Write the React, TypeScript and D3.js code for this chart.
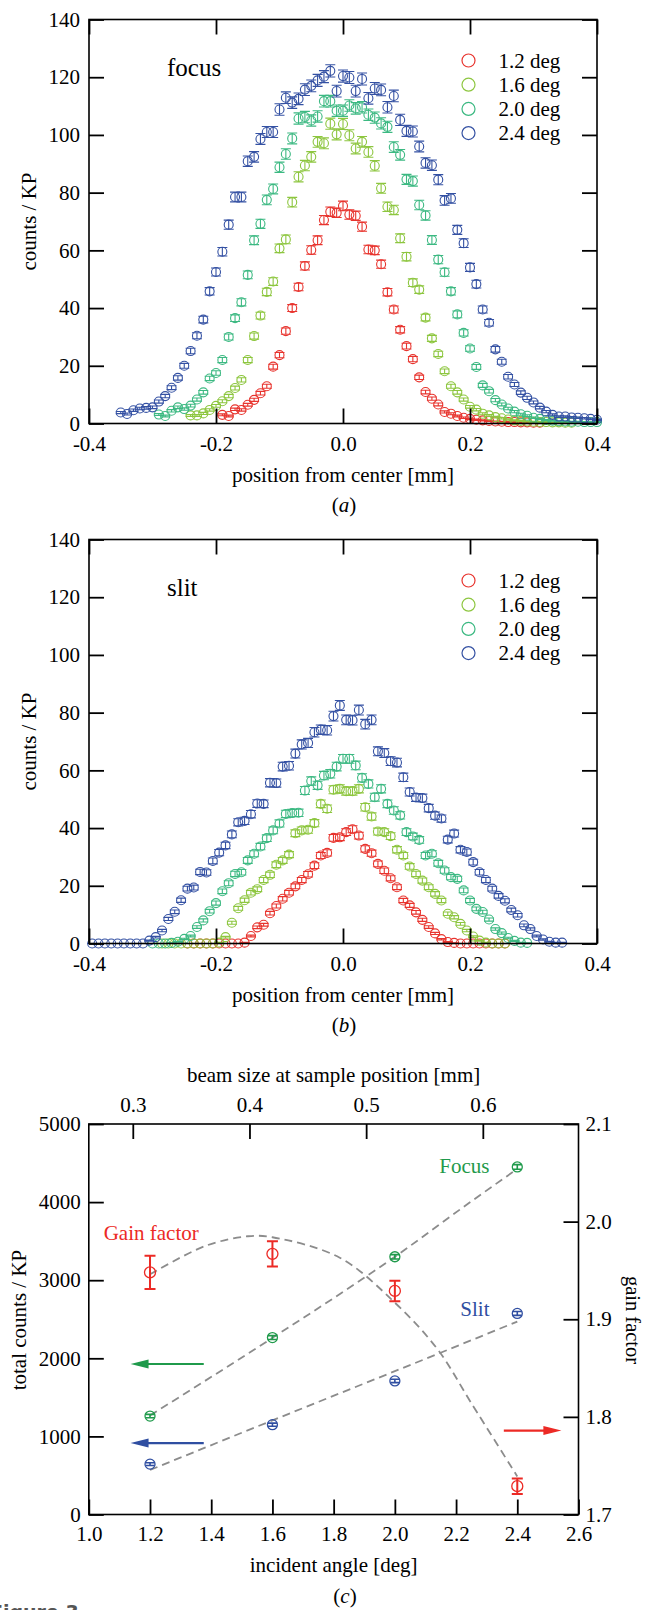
import { useEffect, useRef } from 'react'
import * as d3 from 'd3'

const SERIF = '"Liberation Serif", "Times New Roman", Times, serif'

// four incident angles (panels a, b)
const angleLabels = ['1.2 deg', '1.6 deg', '2.0 deg', '2.4 deg']
const angleColors = ['#e8342e', '#8dc63f', '#3cb982', '#3451a3']

// beam profiles: one point every 0.01 mm starting at the given position
const profileStep = 0.01
const focusStarts = [-0.19, -0.24, -0.29, -0.35]
const focus12 = [3.0, 2.6, 4.9, 4.7, 6.5, 8.2, 10.5, 12.9, 19.7, 23.7, 32.0, 40.0, 47.3, 54.6, 60.1, 63.5, 70.5, 73.4, 73.0, 75.4,
  72.4, 72.0, 68.2, 60.3, 60.0, 55.2, 45.5, 39.5, 32.5, 26.8, 22.3, 16.0, 10.9, 8.6, 6.6, 4.0, 3.4, 2.6, 2.0, 1.6,
  1.3, 1.1, 0.9, 0.7, 0.6, 0.5, 0.5, 0.4, 0.4, 0.3, 0.3]
const focus16 = [2.8, 2.8, 3.5, 4.7, 6.1, 7.7, 9.5, 12.3, 15.1, 22.0, 30.3, 37.4, 45.6, 49.2, 60.7, 63.8, 76.7, 85.5, 89.4, 92.4,
  97.6, 97.1, 103.9, 100.2, 103.8, 99.9, 95.3, 97.6, 94.1, 89.3, 81.5, 75.1, 74.0, 64.2, 57.8, 48.8, 46.4, 36.7, 29.5, 24.1,
  18.1, 12.9, 10.8, 8.3, 5.8, 4.8, 3.4, 2.8, 2.2, 1.8, 1.4, 1.1, 0.9, 0.7, 0.6, 0.5, 0.5, 0.4, 0.4, 0.3, 0.3]
const focus20 = [3.1, 2.6, 4.4, 5.6, 5.0, 6.2, 8.3, 10.8, 15.6, 17.5, 22.0, 30.0, 36.5, 42.0, 51.5, 63.5, 69.2, 77.5, 81.3, 88.8,
  93.4, 98.8, 105.7, 106.2, 105.0, 106.4, 111.7, 111.7, 108.4, 108.4, 110.2, 109.2, 109.6, 107.0, 106.0, 104.0, 102.8, 95.8, 93.1, 84.6,
  84.0, 75.7, 72.1, 63.6, 56.8, 52.4, 45.8, 37.8, 31.4, 26.0, 19.6, 13.2, 11.2, 8.1, 6.6, 5.2, 4.1, 3.2, 2.7, 2.0,
  1.6, 1.2, 1.0, 0.8, 0.7, 0.6, 0.6, 0.5, 0.5, 0.5]
const focus24 = [3.8, 3.3, 4.6, 5.2, 5.4, 5.6, 7.6, 9.5, 12.4, 15.8, 20.0, 25.1, 30.4, 36.0, 45.8, 52.5, 59.5, 68.9, 78.5, 78.5,
  90.9, 92.4, 98.6, 101.0, 101.0, 108.8, 112.9, 111.2, 112.5, 115.7, 117.0, 118.9, 120.2, 122.2, 115.2, 120.4, 119.9, 115.2, 119.4, 112.7,
  116.1, 115.6, 109.6, 113.5, 105.2, 101.4, 101.2, 96.0, 90.3, 89.5, 84.5, 77.3, 78.0, 67.1, 62.5, 54.1, 48.3, 39.5, 34.9, 25.7,
  21.4, 16.2, 13.5, 10.7, 8.9, 7.3, 5.5, 4.1, 3.0, 2.4, 2.4, 2.1, 2.0, 1.8, 1.6, 1.3]

const slitStarts = [-0.245, -0.285, -0.3, -0.395]
const slit12 = [0, 0, 0, 0, 0, 0, 0, 0, 0, 0.3, 2.6, 5.6, 6.5, 10.5, 13.0, 15.5, 17.6, 19.8, 22.0, 24.0,
  27.0, 30.5, 31.4, 36.6, 36.8, 38.6, 39.6, 37.4, 32.8, 31.3, 27.6, 25.2, 22.6, 19.5, 14.9, 13.2, 10.8, 8.2, 5.7, 3.5,
  1.5, 0.5, 0.2, 0, 0, 0, 0, 0, 0, 0, 0]
const slit16 = [0, 0, 0, 0, 0, 0, 0, 0, 0, 0.3, 2.2, 7.2, 12.2, 15.0, 17.6, 18.8, 22.0, 23.8, 27.3, 28.8,
  30.8, 38.2, 39.2, 39.4, 41.7, 48.4, 46.7, 53.3, 53.6, 52.8, 52.8, 53.6, 47.2, 44.0, 38.8, 38.6, 37.2, 32.5, 30.5, 26.7,
  24.1, 21.8, 19.5, 17.2, 14.9, 10.3, 9.1, 6.8, 4.5, 2.4, 1.0, 0.3, 0, 0, 0]
const slit20 = [0, 0, 0, 0.2, 0.6, 1.6, 2.6, 5.7, 8.0, 11.2, 14.0, 18.1, 20.9, 24.1, 24.7, 28.8, 31.1, 33.6, 36.5, 39.2,
  41.6, 44.9, 45.2, 45.3, 53.0, 56.3, 54.8, 58.2, 58.8, 61.3, 64.0, 64.0, 61.7, 57.4, 55.3, 50.7, 53.6, 48.4, 46.1, 44.4,
  38.6, 37.1, 35.9, 30.5, 31.1, 27.8, 25.3, 23.0, 22.4, 18.4, 14.9, 12.0, 10.9, 8.3, 5.0, 3.6, 1.9, 0.9, 0.3, 0.2]
const slit24 = [0, 0, 0, 0, 0, 0, 0, 0, 0, 1.0, 2.2, 4.5, 8.5, 11.0, 15.0, 19.0, 19.4, 24.8, 24.6,
  28.6, 31.5, 34.0, 37.8, 42.0, 42.5, 44.8, 48.5, 48.4, 55.7, 55.6, 61.3, 61.6, 65.8, 69.0, 69.5, 73.2, 74.1, 73.9, 78.8,
  82.5, 77.5, 77.4, 80.9, 76.0, 77.5, 66.6, 66.0, 63.2, 62.7, 57.6, 52.5, 50.6, 50.4, 46.9, 44.3, 43.3, 36.0, 38.1, 32.5,
  31.7, 28.2, 24.7, 22.0, 19.0, 16.5, 14.8, 11.6, 9.8, 6.3, 5.0, 2.6, 1.4, 0.6, 0.3, 0.3]

// error bars follow counting statistics: +/- countErr * sqrt(counts)
const countErr = 0.19

const profileXTicks = [-0.4, -0.2, 0.0, 0.2, 0.4]
const profileYTicks = [0, 20, 40, 60, 80, 100, 120, 140]

// panel c
const incidentAngles = [1.2, 1.6, 2.0, 2.4]
const focusTotals = [1260, 2265, 3300, 4450]
const focusTotalErr = [22, 25, 28, 30]
const slitTotals = [645, 1150, 1710, 2575]
const slitTotalErr = [18, 20, 22, 25]
const gainFactor = [1.948, 1.967, 1.929, 1.729]
const gainErr = [0.017, 0.013, 0.0105, 0.008]

const focusFit = [[1.2, 1268], [1.6, 2262], [2.0, 3300], [2.25, 4010], [2.4, 4425]]
const slitFit = [[1.2, 570], [1.6, 1205], [2.0, 1835], [2.4, 2470]]
const gainFit = [[1.2, 1.946], [1.38, 1.975], [1.52, 1.985], [1.6, 1.984], [1.82, 1.963], [2.0, 1.917],
  [2.14, 1.869], [2.25, 1.814], [2.4, 1.739]]

const angleTicks = [1.0, 1.2, 1.4, 1.6, 1.8, 2.0, 2.2, 2.4, 2.6]
const beamTicks = [0.3, 0.4, 0.5, 0.6]
const beamRange = [0.2623, 0.682]
const totalTicks = [0, 1000, 2000, 3000, 4000, 5000]
const gainTicks = [1.7, 1.8, 1.9, 2.0, 2.1]

const cGreen = '#1f9a4b'
const cBlue = '#2f4ea1'
const cRed = '#ec2a25'

function styleAxis(sel) {
  sel.attr('font-family', SERIF).attr('font-size', 21)
  sel.select('.domain').remove()
  sel.selectAll('line').attr('stroke-width', 1.8)
}

function errPath(px, y1, y2, w) {
  return `M${px},${y1}V${y2}M${px - w},${y1}H${px + w}M${px - w},${y2}H${px + w}`
}

function panelTag(g, px, py, letter) {
  const t = g.append('text').attr('x', px).attr('y', py).attr('text-anchor', 'middle')
    .attr('font-family', SERIF).attr('font-size', 21)
  t.append('tspan').text('(')
  t.append('tspan').attr('font-style', 'italic').text(letter)
  t.append('tspan').text(')')
}

function drawProfiles(root, top, title, tagLetter, starts, series) {
  const left = 89, right = 597, bottom = top + 404
  const x = d3.scaleLinear().domain([-0.4, 0.4]).range([left, right])
  const y = d3.scaleLinear().domain([0, 140]).range([bottom, top])
  const g = root.append('g')

  series.forEach((vals, si) => {
    const pts = vals.map((v, i) => ({ pos: starts[si] + i * profileStep, v }))
    const s = g.append('g').attr('fill', 'none').attr('stroke', angleColors[si]).attr('stroke-width', 1.1)
    const pt = s.selectAll('g').data(pts).enter().append('g')
    pt.append('path').attr('d', d => {
      const e = countErr * Math.sqrt(d.v)
      return errPath(x(d.pos), y(d.v + e), y(d.v - e), 5)
    })
    pt.append('circle').attr('cx', d => x(d.pos)).attr('cy', d => y(d.v)).attr('r', 4.5)
  })

  g.append('g').attr('transform', `translate(0,${bottom})`)
    .call(d3.axisBottom(x).tickValues(profileXTicks).tickSizeInner(-15).tickSizeOuter(0).tickPadding(13)
      .tickFormat(d => d.toFixed(1)))
    .call(styleAxis)
  g.append('g').attr('transform', `translate(0,${top})`)
    .call(d3.axisTop(x).tickValues(profileXTicks).tickSizeInner(-15).tickSizeOuter(0).tickFormat(() => ''))
    .call(styleAxis)
  g.append('g').attr('transform', `translate(${left},0)`)
    .call(d3.axisLeft(y).tickValues(profileYTicks).tickSizeInner(-15).tickSizeOuter(0).tickPadding(9)
      .tickFormat(d3.format('d')))
    .call(styleAxis)
  g.append('g').attr('transform', `translate(${right},0)`)
    .call(d3.axisRight(y).tickValues(profileYTicks).tickSizeInner(-15).tickSizeOuter(0).tickFormat(() => ''))
    .call(styleAxis)

  g.append('rect').attr('x', left).attr('y', top).attr('width', right - left).attr('height', bottom - top)
    .attr('fill', 'none').attr('stroke', '#000').attr('stroke-width', 1.6)

  // legend
  const lg = g.append('g').attr('font-family', SERIF).attr('font-size', 21)
  angleLabels.forEach((lab, i) => {
    const ly = top + 41 + i * 24.2
    lg.append('circle').attr('cx', 468.5).attr('cy', ly).attr('r', 6.5)
      .attr('fill', 'none').attr('stroke', angleColors[i]).attr('stroke-width', 1.2)
    lg.append('text').attr('x', 498.5).attr('y', ly).attr('dy', '0.35em').text(lab)
  })

  g.append('text').attr('x', 167).attr('y', top + 56.5).attr('font-family', SERIF).attr('font-size', 25).text(title)

  g.append('text').attr('x', 343).attr('y', top + 455.5).attr('dy', '0.35em').attr('text-anchor', 'middle')
    .attr('font-family', SERIF).attr('font-size', 21).text('position from center [mm]')
  g.append('text').attr('transform', `translate(29,${top + 202}) rotate(-90)`).attr('dy', '0.35em')
    .attr('text-anchor', 'middle').attr('font-family', SERIF).attr('font-size', 21).text('counts / KP')
  panelTag(g, 344, top + 492, tagLetter)
}

function drawTotals(root) {
  const left = 88.8, right = 578.5, top = 1124, bottom = 1514.5
  const x = d3.scaleLinear().domain([1.0, 2.6]).range([left, right])
  const xTop = d3.scaleLinear().domain(beamRange).range([left, right])
  const yL = d3.scaleLinear().domain([0, 5000]).range([bottom, top])
  const yR = d3.scaleLinear().domain([1.7, 2.1]).range([bottom, top])
  const g = root.append('g')

  // fitted curves
  const fitStyle = sel => sel.attr('fill', 'none').attr('stroke', '#8c8c8c').attr('stroke-width', 1.8)
    .attr('stroke-dasharray', '8,5')
  const lineL = d3.line().x(d => x(d[0])).y(d => yL(d[1])).curve(d3.curveMonotoneX)
  const lineR = d3.line().x(d => x(d[0])).y(d => yR(d[1])).curve(d3.curveCatmullRom)
  g.append('path').attr('d', lineL(focusFit)).call(fitStyle)
  g.append('path').attr('d', lineL(slitFit)).call(fitStyle)
  g.append('path').attr('d', lineR(gainFit)).call(fitStyle)

  const totalMarks = (vals, errs, color) => {
    const s = g.append('g').attr('fill', 'none').attr('stroke', color).attr('stroke-width', 1.3)
    incidentAngles.forEach((a, i) => {
      s.append('path').attr('d', errPath(x(a), yL(vals[i] + errs[i]), yL(vals[i] - errs[i]), 4.5))
        .attr('stroke-width', 1.6)
      s.append('circle').attr('cx', x(a)).attr('cy', yL(vals[i])).attr('r', 5)
    })
  }
  totalMarks(focusTotals, focusTotalErr, cGreen)
  totalMarks(slitTotals, slitTotalErr, cBlue)

  const gs = g.append('g').attr('fill', 'none').attr('stroke', cRed)
  incidentAngles.forEach((a, i) => {
    gs.append('path').attr('d', errPath(x(a), yR(gainFactor[i] + gainErr[i]), yR(gainFactor[i] - gainErr[i]), 5.5))
      .attr('stroke-width', 2)
    gs.append('circle').attr('cx', x(a)).attr('cy', yR(gainFactor[i])).attr('r', 5.5).attr('stroke-width', 1.3)
  })

  // arrows pointing to the axis each series belongs to
  const arrow = (x0, x1, py, color) => {
    const dir = Math.sign(x1 - x0)
    g.append('line').attr('x1', x0).attr('x2', x1 - dir * 14).attr('y1', py).attr('y2', py)
      .attr('stroke', color).attr('stroke-width', 2.2)
    g.append('path').attr('d', `M${x1},${py}L${x1 - dir * 18},${py - 4.5}L${x1 - dir * 18},${py + 4.5}Z`)
      .attr('fill', color)
  }
  arrow(x(1.3756), x(1.1365), yL(1927), cGreen)
  arrow(x(1.3756), x(1.1365), yL(914), cBlue)
  arrow(x(2.356), x(2.544), yR(1.786), cRed)

  // axes
  g.append('g').attr('transform', `translate(0,${bottom})`)
    .call(d3.axisBottom(x).tickValues(angleTicks).tickSizeInner(-15).tickSizeOuter(0).tickPadding(12)
      .tickFormat(d => d.toFixed(1)))
    .call(styleAxis)
  g.append('g').attr('transform', `translate(0,${top})`)
    .call(d3.axisTop(xTop).tickValues(beamTicks).tickSizeInner(-15).tickSizeOuter(0).tickPadding(12)
      .tickFormat(d => d.toFixed(1)))
    .call(styleAxis)
  g.append('g').attr('transform', `translate(${left},0)`)
    .call(d3.axisLeft(yL).tickValues(totalTicks).tickSizeInner(-15).tickSizeOuter(0).tickPadding(8)
      .tickFormat(d3.format('d')))
    .call(styleAxis)
  g.append('g').attr('transform', `translate(${right},0)`)
    .call(d3.axisRight(yR).tickValues(gainTicks).tickSizeInner(-15).tickSizeOuter(0).tickPadding(7)
      .tickFormat(d => d.toFixed(1)))
    .call(styleAxis)
  g.append('rect').attr('x', left).attr('y', top).attr('width', right - left).attr('height', bottom - top)
    .attr('fill', 'none').attr('stroke', '#000').attr('stroke-width', 1.6)

  const txt = (px, py, s, opts = {}) => {
    const t = g.append('text').attr('x', px).attr('y', py).attr('font-family', SERIF).attr('font-size', opts.size || 21)
      .attr('text-anchor', opts.anchor || 'middle').attr('fill', opts.fill || '#000').text(s)
    if (opts.dy) t.attr('dy', opts.dy)
    return t
  }
  txt(489.5, 1172.7, 'Focus', { anchor: 'end', fill: cGreen })
  txt(489.5, 1316, 'Slit', { anchor: 'end', fill: cBlue })
  txt(103.7, 1240, 'Gain factor', { anchor: 'start', fill: cRed })

  txt(333.6, 1074.5, 'beam size at sample position [mm]', { dy: '0.35em' })
  txt(333.6, 1565, 'incident angle [deg]', { dy: '0.35em' })
  g.append('text').attr('transform', 'translate(18.5,1320) rotate(-90)').attr('dy', '0.35em')
    .attr('text-anchor', 'middle').attr('font-family', SERIF).attr('font-size', 21).text('total counts / KP')
  g.append('text').attr('transform', 'translate(633,1320) rotate(90)').attr('dy', '0.35em')
    .attr('text-anchor', 'middle').attr('font-family', SERIF).attr('font-size', 20.5).text('gain factor')
  panelTag(g, 345, 1603, 'c')

  g.append('text').attr('x', -10).attr('y', 1619).attr('font-family', '"DejaVu Sans", sans-serif')
    .attr('font-weight', 'bold').attr('font-size', 19).attr('fill', '#555').text('Figure 3')
}

export default function App() {
  const svgRef = useRef(null)

  useEffect(() => {
    const root = d3.select(svgRef.current)
    root.selectAll('*').remove()
    drawProfiles(root, 19.5, 'focus', 'a', focusStarts, [focus12, focus16, focus20, focus24])
    drawProfiles(root, 539.5, 'slit', 'b', slitStarts, [slit12, slit16, slit20, slit24])
    drawTotals(root)
  }, [])

  return (
    <svg ref={svgRef} width={646} height={1610}
      style={{ position: 'absolute', left: 0, top: 0, background: '#fff' }} />
  )
}
